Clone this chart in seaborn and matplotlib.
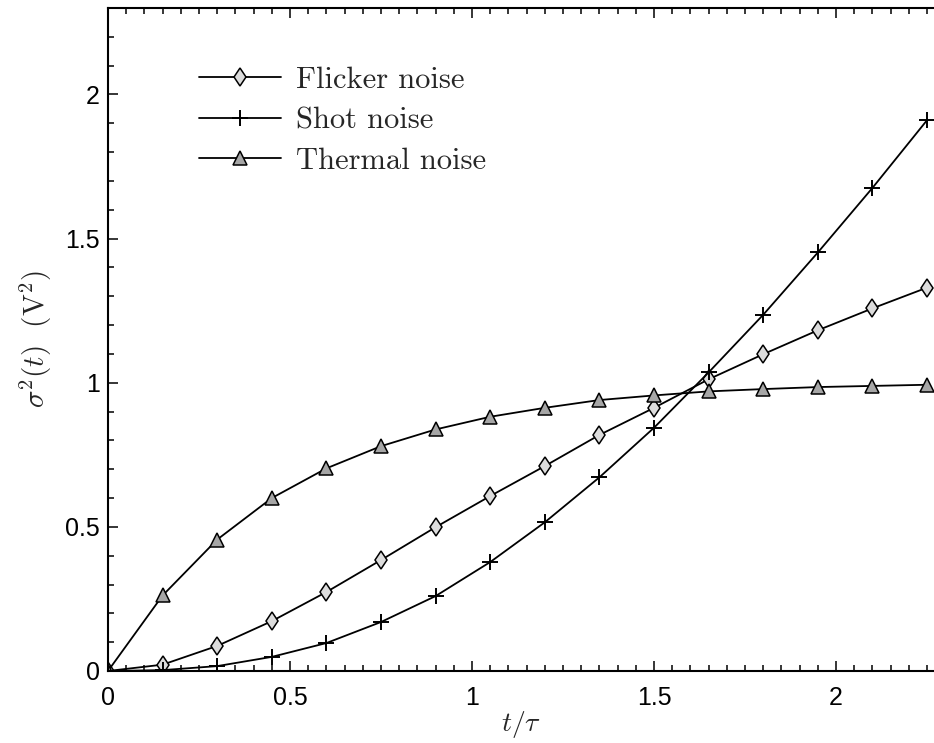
import numpy as np
import pandas as pd
import matplotlib
matplotlib.use("Agg")
import matplotlib.pyplot as plt
from matplotlib.ticker import MultipleLocator, FuncFormatter
import seaborn as sns

# ---- data ----
t = [0.0, 0.15, 0.30, 0.45, 0.60, 0.75, 0.90, 1.05, 1.20, 1.35, 1.50, 1.65, 1.80, 1.95, 2.10, 2.25]
flicker = [0.0, 0.022, 0.087, 0.173, 0.274, 0.385, 0.499, 0.607, 0.711, 0.819, 0.913, 1.012, 1.099, 1.182, 1.258, 1.330]
shot = [0.0, 0.003, 0.017, 0.049, 0.097, 0.170, 0.260, 0.378, 0.516, 0.672, 0.844, 1.036, 1.236, 1.452, 1.676, 1.911]
thermal = [0.0, 0.262, 0.456, 0.600, 0.703, 0.780, 0.838, 0.882, 0.913, 0.940, 0.956, 0.970, 0.978, 0.985, 0.989, 0.993]
labels = ["Flicker noise", "Shot noise", "Thermal noise"]

sns.set_style("ticks")
plt.rcParams["mathtext.fontset"] = "cm"
plt.rcParams["font.family"] = ["Liberation Sans", "DejaVu Sans"]

fig = plt.figure(figsize=(9.34, 7.43), dpi=100)
ax = fig.add_axes([108 / 934, 1 - 671 / 743, 1 - 108 / 934, (671 - 8) / 743])

df = pd.DataFrame({"t": t, "flicker": flicker, "shot": shot, "thermal": thermal})

common = dict(color="black", linewidth=1.3, markeredgecolor="black", ax=ax)
sns.lineplot(data=df, x="t", y="flicker", marker="d", markersize=9.5,
             markerfacecolor="#dcdcdc", markeredgewidth=1.1, label=labels[0], **common)
sns.lineplot(data=df, x="t", y="shot", marker="+", markersize=11,
             markeredgewidth=1.4, label=labels[1], **common)
sns.lineplot(data=df, x="t", y="thermal", marker="^", markersize=9.5,
             markerfacecolor="#a6a6a6", markeredgewidth=1.1, label=labels[2], **common)

ax.set_xlim(0, 2.269)
ax.set_ylim(0, 2.30)
ax.xaxis.set_major_locator(MultipleLocator(0.5))
ax.xaxis.set_minor_locator(MultipleLocator(0.05))
ax.yaxis.set_major_locator(MultipleLocator(0.5))
ax.yaxis.set_minor_locator(MultipleLocator(0.1))
fmt = FuncFormatter(lambda v, p: "%g" % v)
ax.xaxis.set_major_formatter(fmt)
ax.yaxis.set_major_formatter(fmt)

ax.tick_params(which="both", direction="in", top=True, right=False, width=1.1, colors="black")
ax.tick_params(which="major", length=7, labelsize=18, pad=6)
ax.tick_params(which="minor", length=4)
ax.tick_params(axis="x", which="major", pad=11)
for s in ["left", "bottom", "top"]:
    ax.spines[s].set_linewidth(1.5)
    ax.spines[s].set_color("black")
ax.spines["right"].set_visible(False)

ax.set_xlabel(r"$t/\tau$", fontsize=20, labelpad=-1)
ax.set_ylabel(r"$\sigma^2(t)\ \ (\mathrm{V}^2)$", fontsize=21, labelpad=8)

leg = ax.legend(loc="upper left", bbox_to_anchor=(0.095, 0.93), frameon=False,
                handlelength=2.7, handletextpad=0.5, labelspacing=0.42,
                prop={"family": "cmr10", "size": 22}, borderaxespad=0)

fig.savefig("out.png", dpi=100)
